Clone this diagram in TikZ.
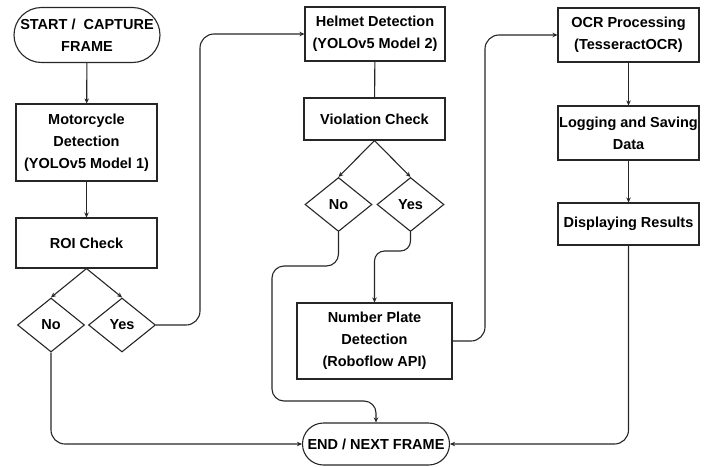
\documentclass[tikz,border=0pt]{standalone}
\usepackage{fontspec}
\setmainfont{Liberation Sans}
\usetikzlibrary{shapes.geometric,shapes.misc,arrows.meta}

\begin{document}
\begin{tikzpicture}[x=1pt,y=-1pt,>={Stealth[length=5pt,width=4.5pt]},
  color=black!85,line width=1.1pt,
  every node/.style={font=\bfseries\fontsize{14.5}{22}\selectfont,text=black,align=center},
  stepbox/.style={rectangle,draw,inner sep=0pt},
  termbox/.style={rounded rectangle,draw,inner sep=0pt},
  choice/.style={diamond,draw,inner sep=0pt,minimum width=67pt,minimum height=54pt}]
\useasboundingbox (0,0) rectangle (704,466);

\node[termbox,minimum width=146pt,minimum height=55pt] (start) at (87,35) {START / \ CAPTURE\\FRAME};
\node[stepbox,minimum width=141pt,minimum height=77pt] (motor) at (86.5,142.5) {Motorcycle\\Detection\\(YOLOv5 Model 1)};
\node[stepbox,minimum width=141pt,minimum height=50pt] (roi) at (86.5,243) {ROI Check};
\node[choice] (no1) at (51,325) {No};
\node[choice] (yes1) at (122,325) {Yes};

\node[stepbox,minimum width=140pt,minimum height=54pt] (helmet) at (375,34) {Helmet Detection\\(YOLOv5 Model 2)};
\node[stepbox,minimum width=141pt,minimum height=42pt] (viol) at (374.5,119) {Violation Check};
\node[choice] (no2) at (338.5,204.5) {No};
\node[choice] (yes2) at (410.5,204.5) {Yes};
\node[stepbox,minimum width=155pt,minimum height=76pt] (plate) at (374.5,341) {Number Plate\\Detection\\(Roboflow API)};
\node[termbox,minimum width=147pt,minimum height=42pt] (end) at (376,444) {END / NEXT FRAME};

\node[stepbox,minimum width=141pt,minimum height=54pt] (ocr) at (628.5,35) {OCR Processing\\(TesseractOCR)};
\node[stepbox,minimum width=141pt,minimum height=54pt] (log) at (628.5,133) {Logging and Saving\\Data};
\node[stepbox,minimum width=141pt,minimum height=42pt] (disp) at (628.5,224) {Displaying Results};

\coordinate (c1) at (200,34);
\coordinate (c2) at (272,266);
\coordinate (c3) at (376,401);
\coordinate (c4) at (374.5,251);
\coordinate (c5) at (485,35);

\draw[->] (start) -- (motor);
\draw[->] (motor) -- (roi);
\draw[->] (roi.south) -- (no1.north);
\draw[->] (roi.south) -- (yes1.north);
\draw[->,rounded corners=14pt] (yes1.east) -| (c1) -- (helmet.west);
\draw[->,rounded corners=14pt] (no1.south) |- (end.west);

\draw (helmet) -- (viol);
\draw[->] (viol.south) -- (no2.north);
\draw[->] (viol.south) -- (yes2.north);
\draw[->,rounded corners=12pt] (no2.south) |- (c2) |- (c3) -- (end.north);
\draw[->,rounded corners=10pt] (yes2.south) |- (c4) -- (plate.north);
\draw[->,rounded corners=14pt] (plate.east) -| (c5) -- (ocr.west);

\draw[->] (ocr) -- (log);
\draw[->] (log) -- (disp);
\draw[->,rounded corners=14pt] (disp.south) |- (end.east);
\end{tikzpicture}
\end{document}
